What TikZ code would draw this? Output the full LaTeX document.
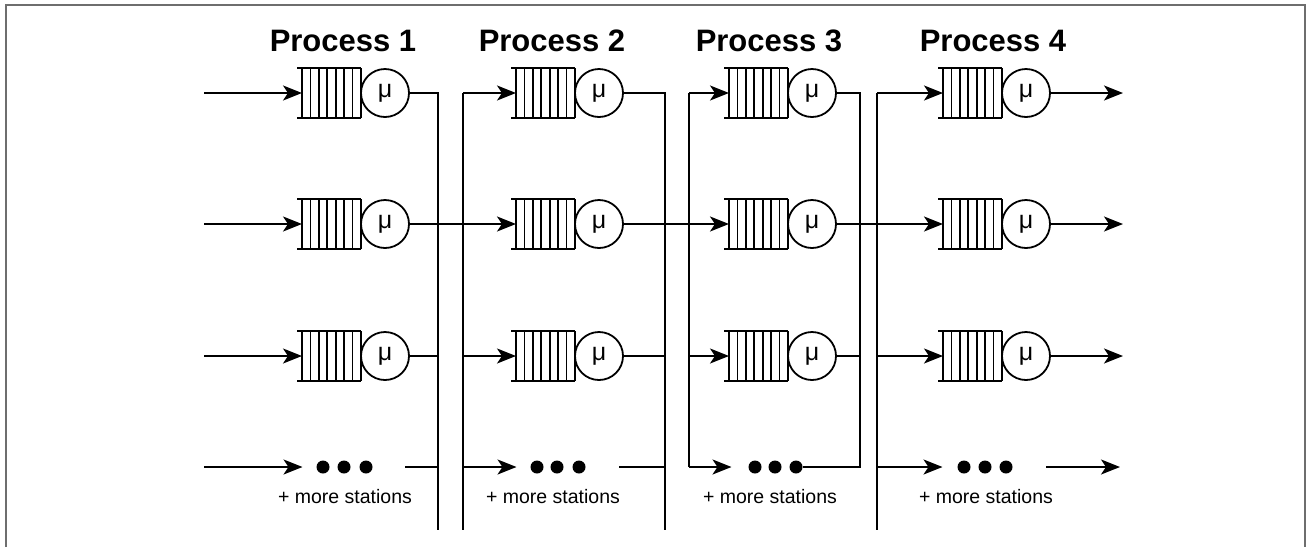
\documentclass[tikz,border=0pt]{standalone}
\usepackage{fontspec}
\setmainfont{Liberation Sans}
\usetikzlibrary{arrows.meta}
\definecolor{framegray}{RGB}{110,110,110}
\newcommand\queuebox[3]{%
  \node[qbox] (#1) at (#2,#3) {};
  \draw[ln] ([xshift=-5pt]#1.north west) -- (#1.north east)
            ([xshift=-5pt]#1.south west) -- (#1.south east);
  \foreach \k in {0,...,7}{\draw[ln] ([xshift={\k*8.4286pt}]#1.south west) -- ([xshift={\k*8.4286pt}]#1.north west);}%
}
\begin{document}
\begin{tikzpicture}[x=1pt,y=-1pt,
  ln/.style={line width=1.8pt},
  arr/.style={ln,-{Stealth[length=19pt,width=15pt,inset=5pt]}},
  bridge/.style={arr,line width=2.3pt},
  qbox/.style={minimum width=59pt,minimum height=50pt,inner sep=0pt,outer sep=0pt},
  srv/.style={circle,draw,ln,minimum size=48pt,inner sep=0pt,outer sep=0pt,font=\fontsize{25}{25}\selectfont},
  dotn/.style={circle,fill,minimum size=13pt,inner sep=0pt,outer sep=0pt},
  ttl/.style={font=\fontsize{31}{31}\selectfont\bfseries},
  lbl/.style={font=\fontsize{19.5}{20}\selectfont},
  frm/.style={draw=framegray,line width=2pt}]
\useasboundingbox (0,0) rectangle (1309,547);
\draw[frm] (6,547) -- (6,5) -- (1305,5) -- (1305,547);

% titles
\node[ttl] (t1) at (343,41) {Process 1};
\node[ttl] (t2) at (552,41) {Process 2};
\node[ttl] (t3) at (769,41) {Process 3};
\node[ttl] (t4) at (993,41) {Process 4};

% queues and servers
\foreach \p/\qx/\sx in {1/331.5/385, 2/545.5/599, 3/758.5/812, 4/972.5/1026}{
  \foreach \r/\y in {1/93, 2/224, 3/356}{
    \queuebox{q\p\r}{\qx}{\y}
    \node[srv] (s\p\r) at (\sx,\y) {μ};
  }
}

% dots and labels
\foreach \p/\a/\b/\c/\m in {1/323/344/366/345, 2/537/557/579/553, 3/755/775/796/770, 4/964/985/1006/986}{
  \node[dotn] (d\p a) at (\a,467) {};
  \node[dotn] (d\p b) at (\b,467) {};
  \node[dotn] (d\p c) at (\c,467) {};
  \node[lbl] (m\p) at (\m,497) {+ more stations};
}

% coordinates
\coordinate (in1) at (204,93);
\coordinate (in2) at (204,224);
\coordinate (in3) at (204,356);
\coordinate (in4) at (204,467);
\coordinate (o1) at (1123,93);
\coordinate (o2) at (1123,224);
\coordinate (o3) at (1123,356);
\coordinate (o4) at (1120,467);
\coordinate (e1) at (405,467);
\coordinate (e2) at (619,467);
\coordinate (e4) at (1046,467);
\coordinate (k1t) at (438,93);  \coordinate (k1b) at (438,530);
\coordinate (k2t) at (463,93);  \coordinate (k2b) at (463,530);
\coordinate (k3t) at (665,93);  \coordinate (k3b) at (665,530);
\coordinate (k4t) at (689,93);  \coordinate (k4b) at (689,467);
\coordinate (k5t) at (860,93);  \coordinate (k5b) at (860,467);
\coordinate (k6t) at (877,93);  \coordinate (k6b) at (877,530);

% P1 inputs
\foreach \r in {1,2,3}{\draw[arr] (in\r) -- (q1\r.west);}
\draw[arr] (in4) -- ([xshift=-14pt]d1a.west);

% P1 collector
\draw[ln] (s11.east) -- (k1t) -- (k1b);
\draw[ln] (s13.east) -- (s13.east -| k1t);
\draw[ln] (e1) -- (e1 -| k1t);

% middle-row bridges
\draw[bridge] (s12.east) -- (q22.west);
\draw[bridge] (s22.east) -- (q32.west);
\draw[bridge] (s32.east) -- (q42.west);

% P2 distributor
\draw[ln] (k2t) -- (k2b);
\draw[arr] (k2t) -- (q21.west);
\draw[arr] (q23.west -| k2t) -- (q23.west);
\draw[arr] (d2a.west -| k2t) -- ([xshift=-14pt]d2a.west);

% P2 collector
\draw[ln] (s21.east) -- (k3t) -- (k3b);
\draw[ln] (s23.east) -- (s23.east -| k3t);
\draw[ln] (e2) -- (e2 -| k3t);

% P3 distributor
\draw[ln] (k4t) -- (k4b);
\draw[arr] (k4t) -- (q31.west);
\draw[arr] (q33.west -| k4t) -- (q33.west);
\draw[arr] (k4b) -- ([xshift=-17pt]d3a.west);

% P3 collector
\draw[ln] (s31.east) -- (k5t) -- (k5b) -- (d3c);
\draw[ln] (s33.east) -- (s33.east -| k5t);

% P4 distributor
\draw[ln] (k6t) -- (k6b);
\draw[arr] (k6t) -- (q41.west);
\draw[arr] (q43.west -| k6t) -- (q43.west);
\draw[arr] (d4a.west -| k6t) -- ([xshift=-15pt]d4a.west);

% P4 outputs
\foreach \r in {1,2,3}{\draw[arr] (s4\r.east) -- (o\r);}
\draw[arr] (e4) -- (o4);
\end{tikzpicture}
\end{document}
